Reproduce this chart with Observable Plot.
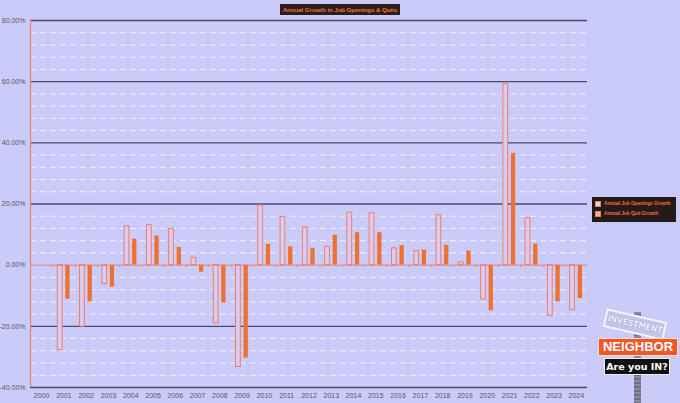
<!DOCTYPE html>
<html>
<head>
<meta charset="utf-8">
<script src="https://cdn.jsdelivr.net/npm/d3@7"></script>
<script src="https://cdn.jsdelivr.net/npm/@observablehq/plot@0.6"></script>
<style>
  html, body { margin: 0; padding: 0; background: #cbcbf9; }
  #wrap { position: relative; width: 680px; height: 403px; background: #cbcbf9; overflow: hidden; font-family: "Liberation Sans", Arial, sans-serif; }
  #chart svg { display: block; }
  #title { position: absolute; left: 280px; top: 4px; width: 120px; height: 11px; background: #2a1d1d; color: #f07040; font: bold 6.2px "Liberation Sans", sans-serif; letter-spacing: -0.1px; text-align: center; line-height: 11px; white-space: nowrap; overflow: hidden; }
  #legend { position: absolute; left: 592px; top: 197px; width: 84px; height: 25px; background: #241a1a; color: #f06a3a; font: bold 4.9px "Liberation Sans", sans-serif; letter-spacing: -0.1px; overflow: hidden; }
  #legend .row { position: absolute; left: 3px; height: 8px; line-height: 8px; white-space: nowrap; }
  #legend .sw { display: inline-block; width: 4px; height: 4px; margin-right: 3px; vertical-align: middle; border: 0.8px solid #f08060; background: #e8d0e8; }
  .sign { position: absolute; text-align: center; font-weight: bold; white-space: nowrap; overflow: hidden; }
</style>
</head>
<body>
<div id="wrap">
  <div id="chart"></div>
  <div id="title">Annual Growth in Job Openings &amp; Quits</div>
  <div id="legend">
    <div class="row" style="top:3px"><span class="sw"></span>Annual Job Openings Growth</div>
    <div class="row" style="top:13px"><span class="sw" style="background:#f4b090"></span>Annual Job Quit Growth</div>
  </div>
  <div id="logo">
    <div style="position:absolute;left:634px;top:312px;width:7px;height:91px;background:repeating-linear-gradient(#8a8a9a 0 2px,#6f6f80 2px 4px);"></div>
    <div class="sign" style="left:604px;top:315px;width:58px;height:15px;background:#c4c4ea;border:2px solid #f2f2ff;transform:rotate(13deg);color:#f4f4ff;font-size:8.5px;line-height:15px;font-family:'DejaVu Sans Condensed','Liberation Sans',sans-serif;text-shadow:0 0 1px #7070a0;">INVESTMENT</div>
    <div class="sign" style="left:598px;top:338px;width:78px;height:16px;background:#f0582a;border:1px solid #ffe0d0;color:#ffffff;font-size:13px;line-height:16px;font-family:'Liberation Sans',Arial,sans-serif;">NEIGHBOR</div>
    <div class="sign" style="left:604px;top:358px;width:64px;height:15px;background:#111111;border:1px solid #eeeeee;color:#ffffff;font-size:9.5px;line-height:15px;font-family:'DejaVu Sans','Liberation Sans',sans-serif;">Are you IN?</div>
  </div>
</div>
<script>
const years = ["2000","2001","2002","2003","2004","2005","2006","2007","2008","2009","2010","2011","2012","2013","2014","2015","2016","2017","2018","2019","2020","2021","2022","2023","2024"];
const openingsGrowth = [null, -27.8, -20.1, -6.2, 12.7, 13.1, 11.8, 2.4, -19.0, -33.3, 19.5, 15.8, 12.3, 6.0, 17.2, 17.0, 5.5, 4.6, 16.3, 0.9, -11.2, 59.2, 15.4, -16.6, -14.7];
const quitsGrowth = [null, -11.1, -12.0, -7.2, 8.5, 9.5, 5.8, -2.3, -12.4, -30.4, 6.8, 6.0, 5.5, 9.8, 10.6, 10.6, 6.4, 4.9, 6.5, 4.6, -14.9, 36.5, 6.9, -12.0, -10.9];
const majorTicks = [-40, -20, 20, 40, 60, 80];
const labelTicks = [-40, -20, 0, 20, 40, 60, 80];
const minorTicks = [-36, -32, -28, -24, -16, -12, -8, -4, 4, 8, 12, 16, 24, 28, 32, 36, 44, 48, 52, 56, 64, 68, 72, 76];

const data = years.map((year, i) => ({year, openings: openingsGrowth[i], quits: quitsGrowth[i]}));
const salmon = "#e8806a";
const bandW = (680 - 30 - 93) / years.length;

const chart = Plot.plot({
  width: 680,
  height: 403,
  marginLeft: 30,
  marginRight: 93,
  marginTop: 20,
  marginBottom: 16,
  style: {background: "transparent", fontFamily: "'Liberation Sans', Arial, sans-serif", fontSize: "7px"},
  x: {type: "band", domain: years, padding: 0, round: false, label: null},
  y: {domain: [-40, 80], label: null},
  marks: [
    Plot.ruleY(minorTicks, {stroke: "#f4f4ff", strokeWidth: 1, strokeDasharray: "6,4", strokeOpacity: 0.9}),
    Plot.ruleY(majorTicks, {stroke: "#4a4a6e", strokeWidth: 1.3}),
    Plot.barY(data, {x: "year", y: "openings", fill: "#dccaf0", stroke: salmon, strokeWidth: 1, insetLeft: 5, insetRight: 12.5}),
    Plot.barY(data, {x: "year", y: "quits", fill: "#ef7030", insetLeft: 13, insetRight: 5}),
    Plot.ruleY([0], {stroke: salmon, strokeWidth: 1}),
    Plot.ruleX(years.slice(1), {x: d => d, dx: -bandW / 2, y1: 0, y2: -0.8, stroke: salmon, strokeWidth: 0.8}),
    Plot.ruleX([years[0]], {x: d => d, dx: -bandW / 2, y1: -40, y2: 80, stroke: salmon, strokeWidth: 1.2}),
    Plot.axisY(labelTicks, {tickSize: 0, tickPadding: 5, tickFormat: d => d.toFixed(2) + "%", fill: "#555566"}),
    Plot.axisX({tickSize: 0, tickPadding: 6, fill: "#555566"})
  ]
});
document.getElementById("chart").appendChild(chart);
</script>
</body>
</html>
